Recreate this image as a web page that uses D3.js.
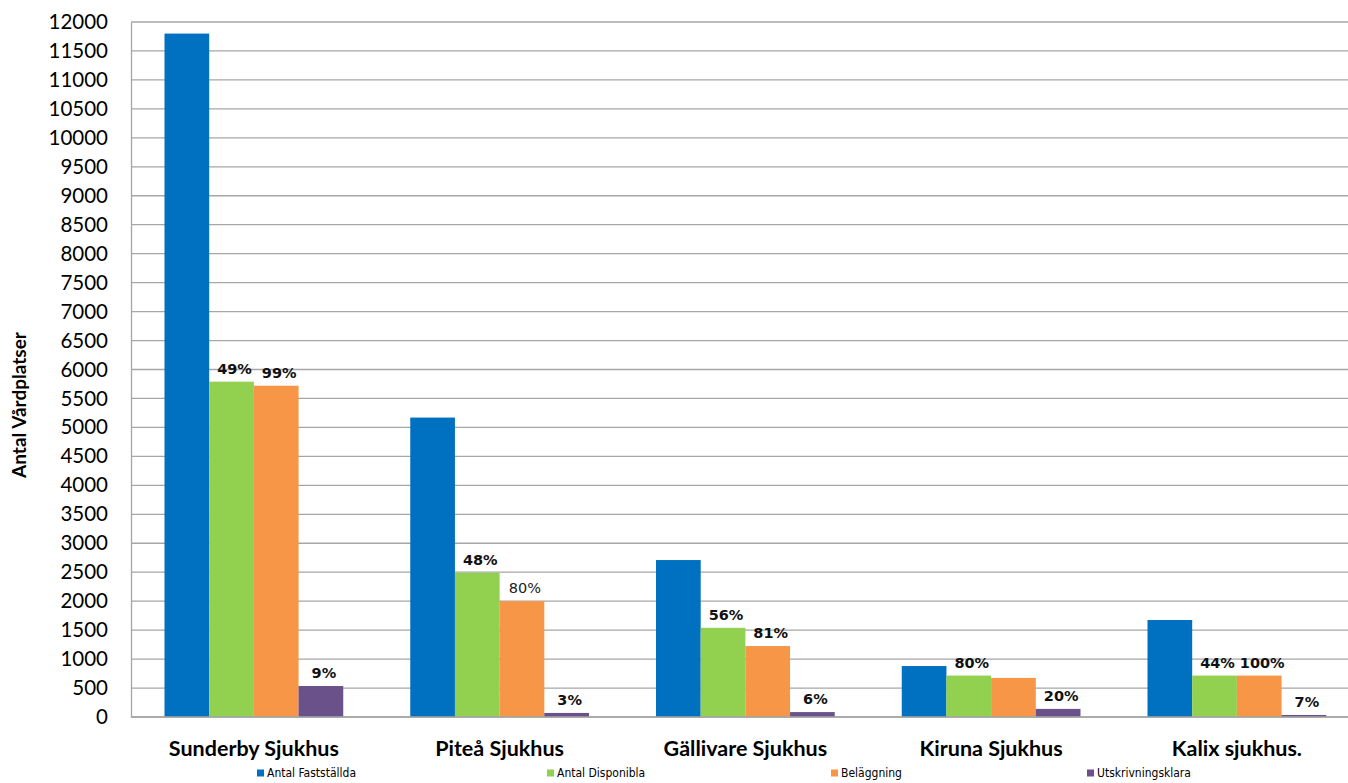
<!DOCTYPE html>
<html>
<head>
<meta charset="utf-8">
<script src="https://cdn.jsdelivr.net/npm/d3@7"></script>
<style>
  body { margin: 0; background: #fff; }
  svg { display: block; }
</style>
</head>
<body>
<div id="chart"></div>
<script>
// chart data
const categories = ["Sunderby Sjukhus", "Piteå Sjukhus", "Gällivare Sjukhus", "Kiruna Sjukhus", "Kalix sjukhus."];
const seriesNames = ["Antal Fastställda", "Antal Disponibla", "Beläggning", "Utskrivningsklara"];
const fastställda = [11800, 5170, 2710, 880, 1675];
const disponibla = [5790, 2490, 1540, 715, 715];
const beläggning = [5720, 2000, 1225, 675, 715];
const utskrivningsklara = [535, 70, 85, 140, 35];
const pctDisponibla = ["49%", "48%", "56%", "80%", "44%"];
const pctBeläggning = ["99%", "80%", "81%", "", "100%"];
const pctUtskrivning = ["9%", "3%", "6%", "20%", "7%"];
const yTicks = d3.range(0, 12001, 500);

const colors = ["#0070C0", "#92D050", "#F79646", "#6B5189"];
const seriesValues = [fastställda, disponibla, beläggning, utskrivningsklara];
const seriesLabels = [null, pctDisponibla, pctBeläggning, pctUtskrivning];

const width = 1348, height = 783;
const margin = { left: 131, top: 22, bottom: 66 };
const plotRight = 131 + 5 * 245.75;

const svg = d3.select("#chart").append("svg")
    .attr("width", width)
    .attr("height", height);

const y = d3.scaleLinear().domain([0, 12000]).range([height - margin.bottom, margin.top]);
const x0 = d3.scaleBand().domain(categories).range([margin.left, plotRight]);
const x1 = d3.scaleBand().domain(d3.range(4)).range([33.5, x0.bandwidth() - 33.5]);

// gridlines
svg.append("g")
    .selectAll("line")
    .data(yTicks)
    .enter().append("line")
    .attr("x1", margin.left).attr("x2", width)
    .attr("y1", d => y(d)).attr("y2", d => y(d))
    .attr("stroke", "#a6a6a6")
    .attr("stroke-width", 1.3);

// y axis
const yAxis = svg.append("g")
    .attr("transform", `translate(${margin.left},0)`)
    .call(d3.axisLeft(y).tickValues(yTicks).tickFormat(d3.format("d")).tickSize(0).tickPadding(23));
yAxis.select(".domain").attr("stroke", "#a6a6a6").attr("stroke-width", 1.3);
yAxis.selectAll("text")
    .attr("font-family", "Lato, 'Open Sans', sans-serif")
    .attr("font-size", 20.5)
    .attr("fill", "#000");

// bars
const groups = svg.append("g")
    .selectAll("g")
    .data(categories)
    .enter().append("g")
    .attr("transform", d => `translate(${x0(d)},0)`);

groups.selectAll("rect")
    .data((d, i) => seriesValues.map((s, k) => ({ k: k, v: s[i] })))
    .enter().append("rect")
    .attr("x", d => x1(d.k))
    .attr("width", x1.bandwidth())
    .attr("y", d => y(d.v))
    .attr("height", d => y(0) - y(d.v))
    .attr("fill", d => colors[d.k]);

// percent labels
groups.selectAll("text.pct")
    .data((d, i) => seriesValues.map((s, k) => ({ k: k, v: s[i], t: seriesLabels[k] ? seriesLabels[k][i] : "", bold: !(i === 1 && k === 2) })))
    .enter().append("text")
    .attr("class", "pct")
    .attr("x", d => x1(d.k) + x1.bandwidth() / 2 + 3)
    .attr("y", d => y(d.v) - 8)
    .attr("text-anchor", "middle")
    .attr("font-family", "'DejaVu Sans', sans-serif")
    .attr("font-size", 14.5)
    .attr("font-weight", d => d.bold ? "bold" : "normal")
    .attr("fill", d => d.bold ? "#111" : "#222")
    .text(d => d.t);

// bottom baseline
svg.append("line")
    .attr("x1", margin.left).attr("x2", width)
    .attr("y1", y(0)).attr("y2", y(0))
    .attr("stroke", "#a6a6a6").attr("stroke-width", 1.3);

// category labels
svg.append("g")
    .selectAll("text")
    .data(categories)
    .enter().append("text")
    .attr("x", d => x0(d) + x0.bandwidth() / 2)
    .attr("y", 756)
    .attr("text-anchor", "middle")
    .attr("font-family", "Lato, 'Open Sans', sans-serif")
    .attr("font-weight", "bold")
    .attr("font-size", 21.5)
    .attr("fill", "#000")
    .text(d => d);

// y title
svg.append("text")
    .attr("transform", "translate(26,405) rotate(-90)")
    .attr("text-anchor", "middle")
    .attr("font-family", "Lato, 'Open Sans', sans-serif")
    .attr("font-weight", "bold")
    .attr("font-size", 19)
    .attr("fill", "#000")
    .text("Antal Vårdplatser");

// legend
const legendX = [257, 547, 831, 1087];
const legend = svg.append("g")
    .selectAll("g")
    .data(seriesNames)
    .enter().append("g")
    .attr("transform", (d, i) => `translate(${legendX[i]},773)`);
legend.append("rect")
    .attr("x", 0).attr("y", -3.5)
    .attr("width", 7).attr("height", 7)
    .attr("fill", (d, i) => colors[i]);
legend.append("text")
    .attr("x", 10).attr("y", 4)
    .attr("font-family", "'Liberation Sans Narrow', 'DejaVu Sans Condensed', sans-serif")
    .attr("font-size", 12)
    .attr("fill", "#000")
    .text(d => d);
</script>
</body>
</html>
